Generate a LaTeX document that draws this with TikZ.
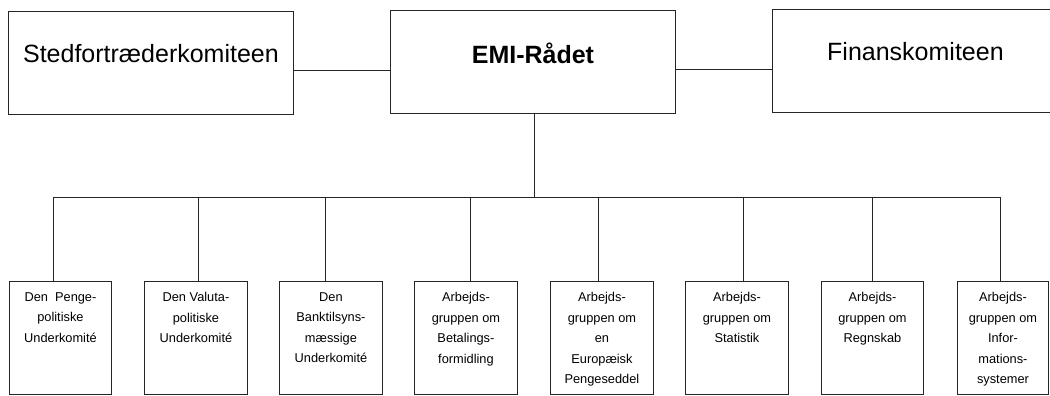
\documentclass[tikz,border=0pt]{standalone}
\usepackage{fontspec}
\setmainfont{Liberation Sans}
\begin{document}
\begin{tikzpicture}[x=1pt,y=-1pt,
  line/.style={draw=black!85,line width=0.9pt},
  topbox/.style={line,rectangle,inner sep=0pt,minimum width=285pt,text width=285pt,align=center,font=\fontsize{25}{30}\selectfont},
  subbox/.style={line,rectangle,inner sep=0pt,anchor=north west,minimum height=113pt},
  subtext/.style={inner sep=0pt,anchor=north,align=center,font=\fontsize{12.8}{20.4}\selectfont}]
\useasboundingbox (0,0) rectangle (1050,396);
% top row
\node[topbox,anchor=north west,text height=51pt,text depth=52pt] (sted) at (8,11) {Stedfortræderkomiteen};
\node[topbox,anchor=north west,text height=53pt,text depth=50pt,font=\fontsize{25}{30}\selectfont\bfseries] (emi) at (390,10) {EMI-Rådet};
\node[topbox,anchor=north west,text height=51pt,text depth=52pt,minimum width=286pt,text width=286pt] (fin) at (772,9) {Finanskomiteen};
\draw[line] (sted.east |- 0,70) -- (emi.west |- 0,70);
\draw[line] (emi.east |- 0,69) -- (fin.west |- 0,69);
% bottom row
\node[subbox,minimum width=102pt] (b1) at (9,281) {};
\node[subbox,minimum width=103pt] (b2) at (144,281) {};
\node[subbox,minimum width=103pt] (b3) at (279,281) {};
\node[subbox,minimum width=103pt] (b4) at (414,281) {};
\node[subbox,minimum width=103pt] (b5) at (550,281) {};
\node[subbox,minimum width=103pt] (b6) at (685,281) {};
\node[subbox,minimum width=102pt] (b7) at (821,281) {};
\node[subbox,minimum width=91pt] (b8) at (957,281) {};
\node[subtext] (t1) at ([yshift=-11.5pt]b1.north) {Den\ \ Penge-\\politiske\\Underkomité};
\node[subtext] (t2) at ([yshift=-11.5pt]b2.north) {Den Valuta-\\politiske\\Underkomité};
\node[subtext] (t3) at ([yshift=-11.5pt]b3.north) {Den\\Banktilsyns-\\mæssige\\Underkomité};
\node[subtext] (t4) at ([yshift=-11.5pt]b4.north) {Arbejds-\\gruppen om\\Betalings-\\formidling};
\node[subtext] (t5) at ([yshift=-11.5pt]b5.north) {Arbejds-\\gruppen om\\en\\Europæisk\\Pengeseddel};
\node[subtext] (t6) at ([yshift=-11.5pt]b6.north) {Arbejds-\\gruppen om\\Statistik};
\node[subtext] (t7) at ([yshift=-11.5pt]b7.north) {Arbejds-\\gruppen om\\Regnskab};
\node[subtext] (t8) at ([yshift=-11.5pt]b8.north) {Arbejds-\\gruppen om\\Infor-\\mations-\\systemer};
% connectors
\coordinate (bus) at (534,197);
\coordinate (c1) at (53,281);
\coordinate (c2) at (198,281);
\coordinate (c3) at (325,281);
\coordinate (c4) at (470,281);
\coordinate (c5) at (598,281);
\coordinate (c6) at (743,281);
\coordinate (c7) at (872,281);
\coordinate (c8) at (1000,281);
\draw[line] (emi.south -| bus) -- (bus);
\draw[line] (c1 |- bus) -- (c8 |- bus);
\foreach \i in {1,...,8} \draw[line] (c\i |- bus) -- (c\i);
\end{tikzpicture}
\end{document}
